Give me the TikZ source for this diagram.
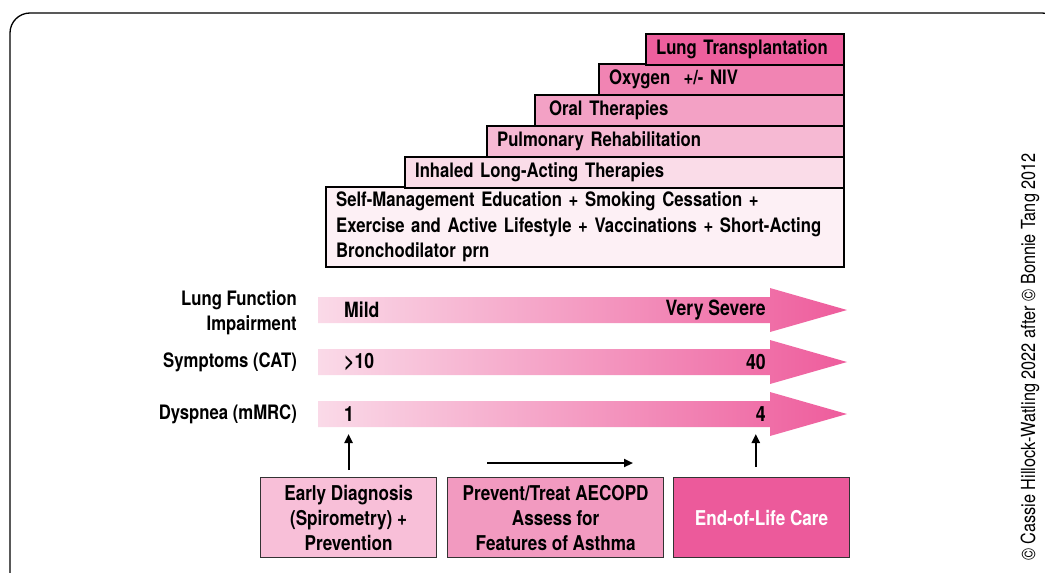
\documentclass[tikz,border=0pt]{standalone}
\usepackage{fontspec}
\setmainfont{TeX Gyre Heros}[FakeStretch=0.84]
\usepackage{tikz}
\usetikzlibrary{arrows.meta, positioning, calc}
\definecolor{copdpink1}{HTML}{FDF0F5}
\definecolor{copdpink2}{HTML}{FADCE8}
\definecolor{copdpink3}{HTML}{F6B9D3}
\definecolor{copdpink4}{HTML}{F3A1C5}
\definecolor{copdpink5}{HTML}{F184B3}
\definecolor{copdpink6}{HTML}{EE5F9D}
\definecolor{bandlight}{HTML}{FADAE8}
\definecolor{banddark}{HTML}{EE5C9C}
\definecolor{boxlight}{HTML}{F8BFD8}
\definecolor{boxmid}{HTML}{F29AC0}
\definecolor{boxdark}{HTML}{EC5A9B}

\begin{document}
\begin{tikzpicture}[
    x=1pt, y=-1pt,
    stepbox/.style={draw=black, line width=2.2pt, anchor=north west,
                    inner xsep=10pt, inner ysep=0pt, align=left,
                    minimum height=30.5pt,
                    font=\fontsize{19.9}{25.5}\selectfont\bfseries},
    rowlabel/.style={anchor=east, align=right, inner sep=0pt,
                     font=\fontsize{19.9}{25.5}\selectfont\bfseries},
    bandtext/.style={inner sep=0pt, font=\fontsize{21}{25}\selectfont\bfseries},
    carebox/.style={draw=black!80, line width=1.2pt, anchor=north west,
                    minimum height=80pt, align=center, inner sep=0pt,
                    font=\fontsize{20.4}{25}\selectfont\bfseries},
    arr/.style={-{Triangle[length=9pt, width=8pt]}, line width=2.2pt},
  ]
    \useasboundingbox (0,0) rectangle (1045,573);
    % Frame
    \begin{scope}
      \clip (0,0) rectangle (1045,573);
      \draw[line width=1.3pt, rounded corners=20pt] (10,13) rectangle (1062,594);
    \end{scope}

    % Treatment staircase
    \node[stepbox, fill=copdpink1, text width=498pt, minimum height=80pt]
      (selfman) at (325,186)
      {\mbox{Self-Management Education + Smoking Cessation +}\\
       \mbox{Exercise and Active Lifestyle + Vaccinations + Short-Acting}\\
       \mbox{Bronchodilator prn}};
    \node[stepbox, fill=copdpink2, text width=419pt] (inhaled) at (404,156)
      {\mbox{Inhaled Long-Acting Therapies}};
    \node[stepbox, fill=copdpink3, text width=337pt] (pulmrehab) at (486,125)
      {\mbox{Pulmonary Rehabilitation}};
    \node[stepbox, fill=copdpink4, text width=281pt, inner xsep=14pt] (oral) at (534,94)
      {\mbox{Oral Therapies}};
    \node[stepbox, fill=copdpink5, text width=225pt] (oxygen) at (598,63)
      {\mbox{Oxygen~ +/- NIV}};
    \node[stepbox, fill=copdpink6, text width=178pt] (transplant) at (645,33)
      {\mbox{Lung Transplantation}};

    % Severity bands
    \foreach \yc/\nm in {310/lungfn, 362/symp, 414/dysp} {
      \shade[left color=bandlight, right color=banddark]
        (318,\yc-13) -- (770,\yc-13) -- (770,\yc-22) -- (847,\yc)
        -- (770,\yc+22) -- (770,\yc+13) -- (318,\yc+13) -- cycle;
      \coordinate (\nm) at (318,\yc);
      \coordinate (\nm bot) at (318,\yc+20);
    }
    \node[rowlabel] (lungfnlabel) at ($(lungfn)+(-21,3)$) {Lung Function\\Impairment};
    \node[rowlabel] (symplabel) at ($(symp)+(-21,0)$) {Symptoms (CAT)};
    \node[rowlabel] (dysplabel) at ($(dysp)+(-21,0)$) {Dyspnea (mMRC)};
    \node[bandtext, anchor=west] (mild) at ($(lungfn)+(26,0)$) {Mild};
    \node[bandtext, anchor=west] (catlow) at ($(symp)+(26,0)$) {>10};
    \node[bandtext, anchor=west] (mmrclow) at ($(dysp)+(26,0)$) {1};
    \node[bandtext, anchor=east] (vsevere) at ($(lungfn)+(448,0)$) {Very Severe};
    \node[bandtext, anchor=east] (cathigh) at ($(symp)+(448,0)$) {40};
    \node[bandtext, anchor=east] (mmrchigh) at ($(dysp)+(448,0)$) {4};

    % Care boxes
    \node[carebox, fill=boxlight, minimum width=176pt] (early) at (260,477)
      {Early Diagnosis\\(Spirometry) +\\Prevention};
    \node[carebox, fill=boxmid, minimum width=216pt] (prevent) at (447,477)
      {Prevent/Treat AECOPD\\Assess for\\Features of Asthma};
    \node[carebox, fill=boxdark, minimum width=176pt, text=white] (endlife) at (673,477)
      {End-of-Life Care};

    \coordinate (progstart) at (487,463);
    \coordinate (progend) at (633,463);
    \draw[arr] ([yshift=7pt]early.north) -- (early.north |- dyspbot);
    \draw[arr] ([yshift=10pt]endlife.north -| mmrchigh.west) -- (mmrchigh.west |- dyspbot);
    \draw[arr] (progstart) -- (progend);

    % Credit
    \node[rotate=90, inner sep=0pt, font=\fontsize{19.4}{20}\selectfont] (credit) at (1030,357)
      {© Cassie Hillock-Watling 2022 after © Bonnie Tang 2012};
\end{tikzpicture}
\end{document}
